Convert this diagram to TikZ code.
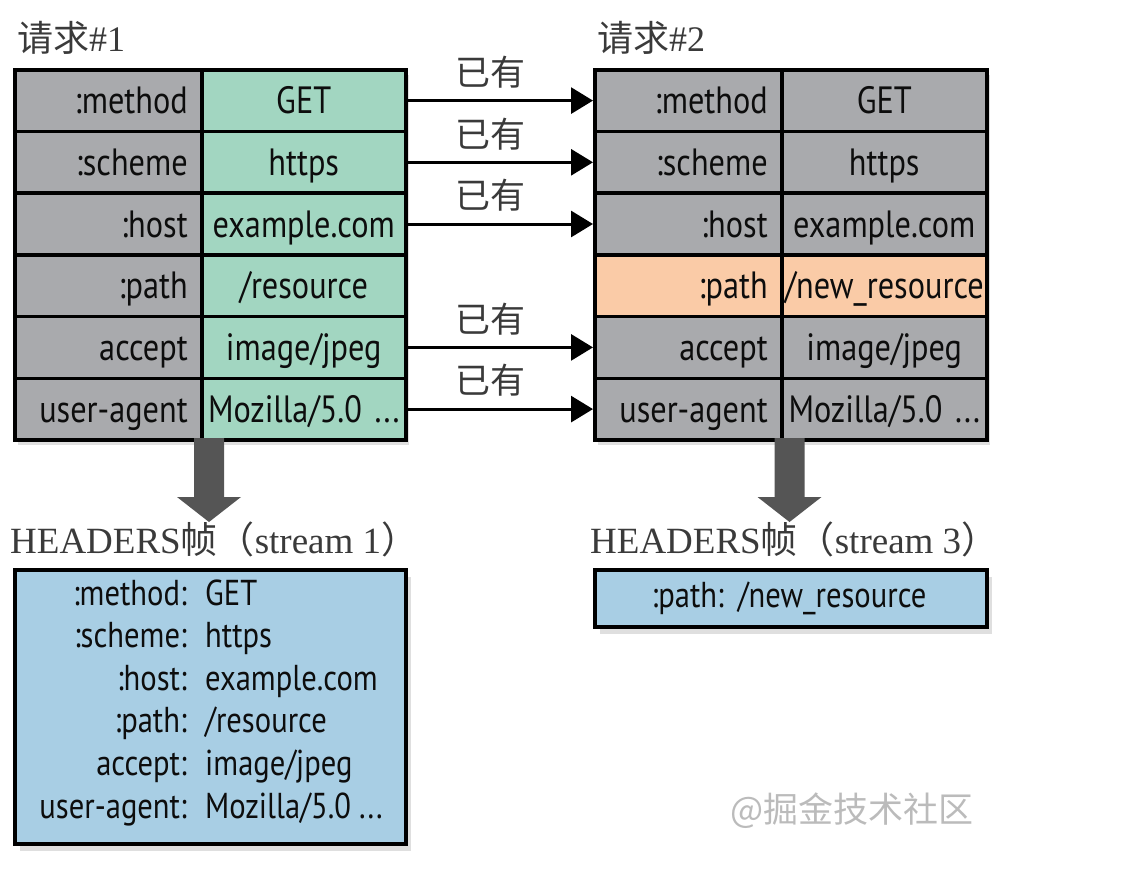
\documentclass[tikz,border=0pt]{standalone}
\usepackage{fontspec}
\usetikzlibrary{arrows.meta,shadows,calc}
\newfontfamily\cond[FakeStretch=0.85]{PT Sans}
\newfontfamily\cjk{Noto Sans CJK SC}
\newfontfamily\serif{Liberation Serif}
\definecolor{cellgray}{HTML}{A9AAAD}
\definecolor{cellgreen}{HTML}{A2D6C1}
\definecolor{cellorange}{HTML}{FACBA7}
\definecolor{boxblue}{HTML}{A8CEE4}
\definecolor{arrowgray}{HTML}{555555}
\definecolor{labelgray}{HTML}{3A3A3A}
\definecolor{marktext}{HTML}{BBBBBB}
\begin{document}
\begin{tikzpicture}[x=1pt,y=-1pt,
  cell/.style={draw=black, line width=3.5pt, inner sep=0pt, minimum height=61.7pt,
    anchor=north west, font=\cond\fontsize{38}{40}\selectfont, text=black!95,
    text height=30pt, text depth=4pt},
  keycell/.style={cell, fill=cellgray, minimum width=187pt, text width=159pt, align=right},
  valcell/.style={cell, fill=cellgreen, minimum width=204pt, text width=200pt, align=center},
  valcellb/.style={valcell, fill=cellgray},
  tabshadow/.style={fill=white, drop shadow={shadow xshift=5pt, shadow yshift=-7pt, opacity=0.25}},
  conn/.style={line width=3pt, -{Triangle[length=22pt, width=26pt]}},
  lbl/.style={font=\cjk\fontsize{35}{37}\selectfont, text=labelgray, inner sep=0pt},
  title/.style={font=\fontsize{36}{38}\selectfont, text=labelgray, inner sep=0pt},
  hdr/.style={font=\serif\fontsize{37}{39}\selectfont, text=labelgray, inner sep=0pt},
  bbox/.style={draw=black, line width=3.5pt, fill=boxblue, inner sep=0pt, anchor=north west,
    drop shadow={shadow xshift=5pt, shadow yshift=-7pt, opacity=0.25}},
  btxt/.style={font=\cond\fontsize{36}{38}\selectfont, text=black!95, inner sep=0pt},
  bigarrow/.style={fill=arrowgray}
]
\useasboundingbox (0,0) rectangle (1140,892);

% titles
\node[title, anchor=base west] (t1) at (17,51) {{\cjk 请求}{\serif\#1}};
\node[title, anchor=base west] (t2) at (597,51) {{\cjk 请求}{\serif\#2}};

% table shadows
\path[tabshadow] (13,68) rectangle (404,438);
\path[tabshadow] (593,68) rectangle (985,438);

% table 1
\node[keycell] (L1k) at (13,68) {:method};
\node[valcell] (L1v) at (200,68) {GET};
\node[keycell] (L2k) at (13,129.7) {:scheme};
\node[valcell] (L2v) at (200,129.7) {https};
\node[keycell] (L3k) at (13,191.4) {:host};
\node[valcell] (L3v) at (200,191.4) {example.com};
\node[keycell] (L4k) at (13,253.1) {:path};
\node[valcell] (L4v) at (200,253.1) {/resource};
\node[keycell] (L5k) at (13,314.8) {accept};
\node[valcell] (L5v) at (200,314.8) {image/jpeg};
\node[keycell] (L6k) at (13,376.5) {user-agent};
\node[valcell] (L6v) at (200,376.5) {Mozilla/5.0 ...};

% table 2
\node[keycell] (R1k) at (593,68) {:method};
\node[valcellb, minimum width=205pt] (R1v) at (780,68) {GET};
\node[keycell] (R2k) at (593,129.7) {:scheme};
\node[valcellb, minimum width=205pt] (R2v) at (780,129.7) {https};
\node[keycell] (R3k) at (593,191.4) {:host};
\node[valcellb, minimum width=205pt] (R3v) at (780,191.4) {example.com};
\node[keycell, fill=cellorange] (R4k) at (593,253.1) {:path};
\node[valcellb, fill=cellorange, minimum width=205pt] (R4v) at (780,253.1) {/new\_resource};
\node[keycell] (R5k) at (593,314.8) {accept};
\node[valcellb, minimum width=205pt] (R5v) at (780,314.8) {image/jpeg};
\node[keycell] (R6k) at (593,376.5) {user-agent};
\node[valcellb, minimum width=205pt] (R6v) at (780,376.5) {Mozilla/5.0 ...};

% connectors
\draw[conn] (L1v.east) -- (R1k.west) node[lbl, pos=0.45, above=11pt] {已有};
\draw[conn] (L2v.east) -- (R2k.west) node[lbl, pos=0.45, above=11pt] {已有};
\draw[conn] (L3v.east) -- (R3k.west) node[lbl, pos=0.45, above=11pt] {已有};
\draw[conn] (L5v.east) -- (R5k.west) node[lbl, pos=0.45, above=11pt] {已有};
\draw[conn] (L6v.east) -- (R6k.west) node[lbl, pos=0.45, above=11pt] {已有};

% big down arrows
\coordinate (A1) at (208.5,438);
\coordinate (A2) at (789,438);
\fill[bigarrow] ([xshift=-14.5pt]A1) -- ++(0,59) -- ++(-17,0) -- ++(32,25) -- ++(32,-25) -- ++(-17,0) -- ++(0,-59) -- cycle;
\fill[bigarrow] ([xshift=-14.5pt]A2) -- ++(0,59) -- ++(-17,0) -- ++(32,25) -- ++(32,-25) -- ++(-17,0) -- ++(0,-59) -- cycle;

% headers labels
\node[hdr, anchor=base west] (h1) at (10,553) {HEADERS{\cjk 帧（}stream 1{\cjk ）}};
\node[hdr, anchor=base west] (h2) at (590,553) {HEADERS{\cjk 帧（}stream 3{\cjk ）}};

% blue boxes
\node[bbox, minimum width=391pt, minimum height=274pt] (B1) at (13,568) {};
\node[bbox, minimum width=392pt, minimum height=57pt] (B2) at (593,568) {};

\node[btxt, anchor=base east] (k1) at (187,605) {:method:};
\node[btxt, anchor=base west] (v1) at (205,605) {GET};
\node[btxt, anchor=base east] (k2) at (187,647.6) {:scheme:};
\node[btxt, anchor=base west] (v2) at (205,647.6) {https};
\node[btxt, anchor=base east] (k3) at (187,690.2) {:host:};
\node[btxt, anchor=base west] (v3) at (205,690.2) {example.com};
\node[btxt, anchor=base east] (k4) at (187,732.8) {:path:};
\node[btxt, anchor=base west] (v4) at (205,732.8) {/resource};
\node[btxt, anchor=base east] (k5) at (187,775.4) {accept:};
\node[btxt, anchor=base west] (v5) at (205,775.4) {image/jpeg};
\node[btxt, anchor=base east] (k6) at (187,818) {user-agent:};
\node[btxt, anchor=base west] (v6) at (205,818) {Mozilla/5.0 ...};

\node[btxt, anchor=base] (p2) at (789,607) {:path:\hspace{14pt}/new\_resource};

% watermark
\node[font=\cjk\fontsize{35}{37}\selectfont, text=marktext, anchor=base west, inner sep=0pt] (wm) at (730,822) {@掘金技术社区};
\end{tikzpicture}
\end{document}
